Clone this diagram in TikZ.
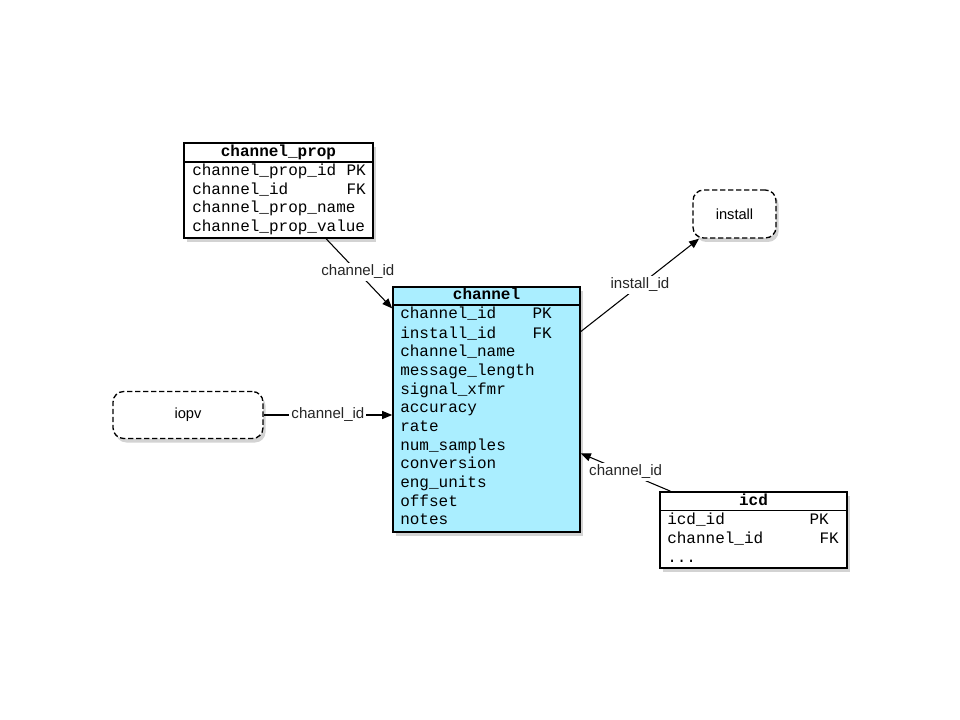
\documentclass[tikz,border=0pt]{standalone}
\usepackage{fontspec}
\setmainfont{Liberation Sans}
\newfontfamily\dbmono{Liberation Mono}
\usetikzlibrary{shadows,calc,arrows.meta}
\definecolor{chfill}{RGB}{170,238,255}
\begin{document}
\begin{tikzpicture}[x=0.75pt,y=-0.75pt,
  tablebox/.style={draw=black,line width=1.2pt,fill=white,inner sep=0pt,
    drop shadow={opacity=0.35,shadow xshift=2pt,shadow yshift=-3pt}},
  refbox/.style={draw=black,line width=1pt,dashed,dash pattern=on 4pt off 2pt,rounded corners=8pt,fill=white,inner sep=0pt,
    font=\fontsize{11}{13}\selectfont,
    drop shadow={opacity=0.35,shadow xshift=2pt,shadow yshift=-3pt}},
  hdr/.style={font=\dbmono\bfseries\fontsize{12}{14}\selectfont,inner sep=0pt,text height=8.5pt,text depth=2.5pt},
  row/.style={font=\dbmono\fontsize{12}{14}\selectfont,inner sep=0pt,anchor=west,text height=8.5pt,text depth=2.5pt},
  key/.style={font=\dbmono\fontsize{12}{14}\selectfont,inner sep=0pt,anchor=east,text height=8.5pt,text depth=2.5pt},
  conn/.style={line width=0.8pt,-{Triangle[length=7.5pt,width=6pt]}},
  lbl/.style={fill=white,inner sep=1.5pt,font=\fontsize{11.3}{13}\selectfont,text=black!85,text height=8pt,text depth=2.5pt}]
\useasboundingbox (0,0) rectangle (960,720);

% channel_prop
\node[tablebox,minimum width=141.75pt,minimum height=71.25pt] (cp) at (278.5,190.5) {};
\draw[line width=1pt] (184,162) -- (373,162);
\node[hdr] (cph) at (278.5,152.5) {channel\_prop};
\node[row] (cp1) at (192,172) {channel\_prop\_id};
\node[key] (cp1k) at (366,172) {PK};
\node[row] (cp2) at (192,190.5) {channel\_id};
\node[key] (cp2k) at (366,190.5) {FK};
\node[row] (cp3) at (192,209) {channel\_prop\_name};
\node[row] (cp4) at (192,228) {channel\_prop\_value};

% channel
\node[tablebox,fill=chfill,minimum width=140.25pt,minimum height=183.75pt] (ch) at (486.5,409.5) {};
\draw[line width=1pt] (393,305) -- (580,305);
\node[hdr] (chh) at (486.5,296) {channel};
\node[row] (c1) at (400,315) {channel\_id};
\node[key] (c1k) at (552,315) {PK};
\node[row] (c2) at (400,334) {install\_id};
\node[key] (c2k) at (552,334) {FK};
\node[row] (c3) at (400,352.5) {channel\_name};
\node[row] (c4) at (400,371) {message\_length};
\node[row] (c5) at (400,390) {signal\_xfmr};
\node[row] (c6) at (400,408.5) {accuracy};
\node[row] (c7) at (400,427) {rate};
\node[row] (c8) at (400,446) {num\_samples};
\node[row] (c9) at (400,464.5) {conversion};
\node[row] (c10) at (400,483) {eng\_units};
\node[row] (c11) at (400,502) {offset};
\node[row] (c12) at (400,520.5) {notes};

% icd
\node[tablebox,minimum width=140.25pt,minimum height=57pt] (icd) at (753.5,530) {};
\draw[line width=1pt] (660,510.5) -- (847,510.5);
\node[hdr] (icdh) at (753.5,501) {icd};
\node[row] (i1) at (667,520.5) {icd\_id};
\node[key] (i1k) at (829,520.5) {PK};
\node[row] (i2) at (667,539.5) {channel\_id};
\node[key] (i2k) at (839,539.5) {FK};
\node[row] (i3) at (667,558) {...};

% external refs
\node[refbox,minimum width=62.25pt,minimum height=36pt] (inst) at (734.5,214) {install};
\node[refbox,minimum width=112.5pt,minimum height=35.25pt] (iopv) at (188,415) {iopv};

% connectors
\draw[conn] ($(cp.south west)!0.75!(cp.south east)$) -- node[lbl,pos=0.48]{channel\_id} ($(ch.north west)!0.09!(ch.south west)$);
\draw[conn] (iopv.east) -- node[lbl]{channel\_id} (iopv.east -| ch.west);
\draw[conn] ($(ch.north east)!0.184!(ch.south east)$) -- node[lbl]{install\_id} ($(inst.south west)!0.08!(inst.south east)$);
\draw[conn] ($(icd.north west)!0.06!(icd.north east)$) -- node[lbl]{channel\_id} ($(ch.north east)!0.678!(ch.south east)$);
\end{tikzpicture}
\end{document}
